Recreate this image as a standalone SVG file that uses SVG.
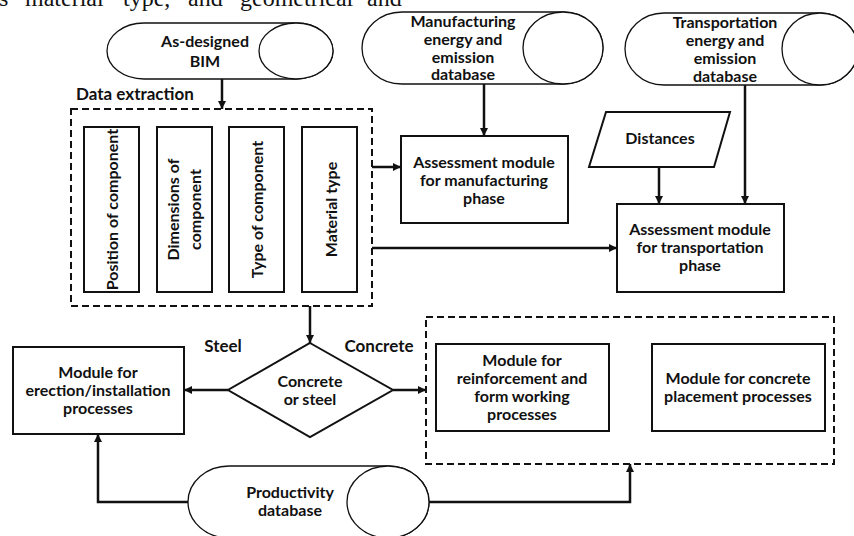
<svg xmlns="http://www.w3.org/2000/svg" width="854" height="536" viewBox="0 0 854 536">
<style>
.t{font-family:Lato,"Liberation Sans",sans-serif;font-weight:bold;font-size:16px;fill:#111;text-anchor:middle}
.lbl{font-family:Lato,"Liberation Sans",sans-serif;font-weight:bold;font-size:17px;fill:#111}
.cyl{fill:#fff;stroke:#111;stroke-width:1.3}
.box{fill:#fff;stroke:#111;stroke-width:2}
.dash{fill:none;stroke:#111;stroke-width:2;stroke-dasharray:7 4}
.con{fill:none;stroke:#111;stroke-width:2.5}
.body{font-family:"Liberation Serif",serif;font-size:24px;fill:#111}
</style>
<defs>
<marker id="ah" viewBox="0 0 10 10" refX="10" refY="5" markerWidth="9" markerHeight="8" orient="auto" markerUnits="userSpaceOnUse">
<path d="M0,0 L10,5 L0,10 z" fill="#111"/>
</marker>
</defs>
<rect width="854" height="536" fill="#fff"/>
<text class="body" y="6"><tspan x="-1">s</tspan><tspan x="25">material</tspan><tspan x="123">type,</tspan><tspan x="188">and</tspan><tspan x="240">geometrical</tspan><tspan x="367">and</tspan></text>

<g id="bim">
<path class="cyl" d="M144,23 L296,23 A37,28 0 0 1 296,79 L144,79 A37,28 0 0 1 144,23 Z"/>
<ellipse class="cyl" cx="296" cy="51" rx="37" ry="28"/>
<text class="t" x="205" y="47">As-designed</text>
<text class="t" x="205" y="67">BIM</text>
</g>

<g id="manufdb">
<path class="cyl" d="M402,12 L563,12 A40,36 0 0 1 563,84 L402,84 A40,36 0 0 1 402,12 Z"/>
<ellipse class="cyl" cx="563" cy="48" rx="40" ry="36"/>
<text class="t" x="463" y="27">Manufacturing</text>
<text class="t" x="463" y="45">energy and</text>
<text class="t" x="463" y="62.5">emission</text>
<text class="t" x="463" y="80">database</text>
</g>

<g id="transdb">
<path class="cyl" d="M664,13 L820,13 A38,36 0 0 1 820,85 L664,85 A39,36 0 0 1 664,13 Z"/>
<ellipse class="cyl" cx="820" cy="49" rx="38" ry="36"/>
<text class="t" x="725" y="27.5">Transportation</text>
<text class="t" x="725" y="45.5">energy and</text>
<text class="t" x="725" y="63.5">emission</text>
<text class="t" x="725" y="81.5">database</text>
</g>

<g id="dataextraction">
<text class="lbl" x="76" y="100">Data extraction</text>
<rect class="dash" x="71" y="109" width="301" height="197"/>
</g>

<g id="position">
<rect class="box" x="84" y="127" width="55" height="165"/>
<text class="t" transform="translate(118,209.5) rotate(-90)">Position of component</text>
</g>
<g id="dimensions">
<rect class="box" x="157" y="127" width="55" height="165"/>
<text class="t" transform="translate(179,209.5) rotate(-90)">Dimensions of</text>
<text class="t" transform="translate(201,209.5) rotate(-90)">component</text>
</g>
<g id="type">
<rect class="box" x="229" y="127" width="55" height="165"/>
<text class="t" transform="translate(262.5,209.5) rotate(-90)">Type of component</text>
</g>
<g id="material">
<rect class="box" x="302" y="127" width="55" height="165"/>
<text class="t" transform="translate(336.5,209.5) rotate(-90)">Material type</text>
</g>

<g id="assessmanuf">
<rect class="box" x="401" y="136" width="167" height="87"/>
<text class="t" x="484" y="168">Assessment module</text>
<text class="t" x="484" y="186">for manufacturing</text>
<text class="t" x="484" y="204">phase</text>
</g>

<g id="distances">
<polygon class="box" points="606,112 730,112 714,167 589,167"/>
<text class="t" x="660" y="143.5">Distances</text>
</g>

<g id="assesstrans">
<rect class="box" x="617" y="204" width="167" height="88"/>
<text class="t" x="700" y="235">Assessment module</text>
<text class="t" x="700" y="253">for transportation</text>
<text class="t" x="700" y="271">phase</text>
</g>

<g id="decision">
<polygon class="box" points="310,343 393,390 310,437 228,390"/>
<text class="t" x="310" y="387">Concrete</text>
<text class="t" x="310" y="405">or steel</text>
<text class="lbl" x="223" y="352" text-anchor="middle">Steel</text>
<text class="lbl" x="379" y="352" text-anchor="middle">Concrete</text>
</g>

<g id="erection">
<rect class="box" x="13" y="347" width="171" height="87"/>
<text class="t" x="98" y="378">Module for</text>
<text class="t" x="98" y="396">erection/installation</text>
<text class="t" x="98" y="414">processes</text>
</g>

<g id="concretegroup">
<rect class="dash" x="426" y="317" width="408" height="147"/>
</g>
<g id="reinforcement">
<rect class="box" x="436" y="344" width="173" height="87"/>
<text class="t" x="522" y="366">Module for</text>
<text class="t" x="522" y="384">reinforcement and</text>
<text class="t" x="522" y="402">form working</text>
<text class="t" x="522" y="420">processes</text>
</g>
<g id="placement">
<rect class="box" x="652" y="344" width="173" height="87"/>
<text class="t" x="738" y="384">Module for concrete</text>
<text class="t" x="738" y="402">placement processes</text>
</g>

<g id="productivity">
<path class="cyl" d="M229,466 L388,466 A41,36 0 0 1 388,538 L229,538 A41,36 0 0 1 229,466 Z"/>
<ellipse class="cyl" cx="388" cy="502" rx="41" ry="36"/>
<text class="t" x="290" y="498">Productivity</text>
<text class="t" x="290" y="516">database</text>
</g>

<g id="connectors">
<path class="con" d="M222,79 V109" marker-end="url(#ah)"/>
<path class="con" d="M484,84 V136" marker-end="url(#ah)"/>
<path class="con" d="M372,167 H401" marker-end="url(#ah)"/>
<path class="con" d="M372,248 H617" marker-end="url(#ah)"/>
<path class="con" d="M659,167 V204" marker-end="url(#ah)"/>
<path class="con" d="M745,85 V204" marker-end="url(#ah)"/>
<path class="con" d="M310,306 V343" marker-end="url(#ah)"/>
<path class="con" d="M228,390 H184" marker-end="url(#ah)"/>
<path class="con" d="M393,390 H426" marker-end="url(#ah)"/>
<path class="con" d="M188,502 H98 V434" marker-end="url(#ah)"/>
<path class="con" d="M429,502 H630 V464" marker-end="url(#ah)"/>
</g>
</svg>
